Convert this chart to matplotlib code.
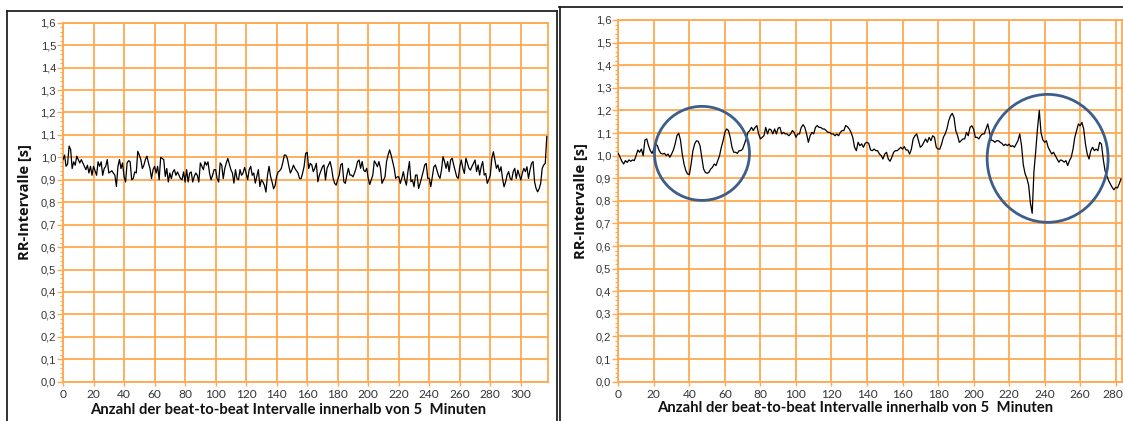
import numpy as np
import matplotlib
matplotlib.use("Agg")
import matplotlib.pyplot as plt
from matplotlib.patches import Ellipse
from matplotlib.lines import Line2D
from matplotlib.transforms import ScaledTranslation
from matplotlib.ticker import MultipleLocator, FixedLocator, FuncFormatter

# RR intervals [s], one value per beat - resting recording (left panel)
rr_rest = [
    0.99, 1.01, 0.96, 0.97, 1.05, 1.035, 0.95, 0.98, 0.965, 1.005, 0.99,
    0.975, 0.99, 0.975, 0.96, 0.945, 0.965, 0.93, 0.96, 0.92, 0.96, 0.94,
    0.92, 0.98, 0.96, 0.98, 0.92, 0.95, 0.96, 0.99, 0.93, 0.935, 0.94,
    0.93, 0.92, 0.87, 0.96, 0.99, 0.95, 0.975, 0.915, 0.89, 0.975, 0.985,
    0.98, 0.90, 0.905, 0.935, 0.93, 1.027, 1.01, 0.99, 0.95, 0.965, 0.99,
    1.005, 0.975, 0.95, 0.905, 0.945, 0.96, 0.93, 0.96, 0.90, 1.0, 0.995,
    0.99, 0.915, 0.95, 0.89, 0.93, 0.905, 0.935, 0.945, 0.92, 0.935, 0.92,
    0.905, 0.90, 0.935, 0.89, 0.945, 0.89, 0.93, 0.935, 0.89, 0.915, 0.93,
    0.92, 0.89, 0.975, 0.96, 0.945, 0.98, 0.965, 0.98, 0.93, 0.90, 0.92,
    0.945, 0.945, 0.905, 0.89, 0.975, 0.965, 0.905, 0.95, 0.975, 0.995, 0.97,
    0.945, 0.93, 0.885, 0.945, 0.905, 0.90, 0.945, 0.92, 0.93, 0.955, 0.93,
    0.90, 0.945, 0.96, 0.92, 0.93, 0.885, 0.915, 0.945, 0.87, 0.90, 0.89,
    0.875, 0.845, 0.92, 0.96, 0.915, 0.89, 0.86, 0.875, 0.915, 0.935, 0.94,
    0.95, 0.975, 1.01, 1.01, 0.995, 0.96, 0.93, 0.945, 0.965, 0.95, 0.94,
    0.93, 0.905, 0.905, 0.93, 0.96,
    1.018, 1.022, 0.95, 0.973, 0.966, 0.936, 0.951, 0.973, 0.891, 0.921, 0.94,
    0.958, 0.966, 0.899, 0.951, 0.966, 0.981, 0.951, 0.906, 0.884, 0.876, 0.90,
    0.921, 0.966, 0.973, 0.891, 0.884, 0.921, 0.951, 0.921, 0.921, 0.913, 0.93,
    0.951, 0.981, 0.988, 0.951, 0.981, 0.943, 0.936, 0.951, 0.906, 0.879, 0.90,
    0.921, 0.984, 0.973, 0.958, 0.981, 0.951, 0.884, 0.899, 0.913, 0.981, 1.01,
    1.033, 1.01, 0.981, 0.951, 0.906, 0.913, 0.913, 0.884, 0.906, 0.936, 0.90,
    0.876, 0.936, 0.981, 0.891, 0.899, 0.869, 0.921, 0.921, 0.861, 0.884, 0.91,
    0.936, 0.966, 0.973, 0.906, 0.906, 0.869, 0.913, 0.958, 0.966, 0.943, 0.92,
    0.906, 0.943, 1.003, 0.981, 0.951, 0.981, 0.936, 0.988, 0.996, 0.966, 0.94,
    0.913, 0.906, 0.958, 0.988, 0.951, 0.928, 0.996, 0.973, 0.951, 0.943, 0.96,
    0.973, 0.988, 0.936, 0.966, 0.921, 0.958, 0.981, 0.921, 0.928, 0.884, 0.90,
    0.921, 0.996, 1.025, 0.988, 0.951, 0.966, 0.936, 0.958, 0.906, 0.869, 0.89,
    0.921, 0.936, 0.906, 0.899, 0.936, 0.951, 0.906, 0.943, 0.921, 0.899, 0.93,
    0.951, 0.936, 0.958, 0.906, 0.943, 0.973, 0.981, 0.891, 0.861, 0.846, 0.86,
    0.884, 0.951, 0.966, 0.973, 1.093,
]

# RR intervals [s], one value per beat - recording with irregular episodes (right panel)
rr_episode = [
    1.010, 0.993, 0.975, 0.963, 0.978, 0.970, 0.981, 0.975, 0.981, 0.978,
    1.000, 1.025, 1.015, 1.029, 1.000, 1.069, 1.074, 1.044, 1.022, 1.010,
    1.029, 1.052, 1.044, 1.022, 1.010, 1.007, 1.010, 1.000, 1.007, 0.993,
    1.007, 1.025, 1.052, 1.088, 1.099, 1.069, 1.007, 0.963, 0.934, 0.919,
    0.916, 0.963, 1.022, 1.052, 1.066, 1.063, 1.044, 0.993, 0.941, 0.926,
    0.922, 0.926, 0.941, 0.948, 0.963, 0.956, 0.978, 1.000, 1.037, 1.066,
    1.103, 1.118, 1.111, 1.081, 1.037, 1.015, 1.015, 1.010, 1.022, 1.022,
    1.029, 1.052, 1.074, 1.103, 1.111, 1.125, 1.111, 1.125, 1.133, 1.096,
    1.074, 1.081, 1.088, 1.125, 1.096, 1.118, 1.114, 1.096, 1.118, 1.096,
    1.122, 1.125, 1.096, 1.103, 1.096, 1.096, 1.088, 1.096, 1.111, 1.103,
    1.081, 1.096, 1.096, 1.125, 1.137, 1.125, 1.096, 1.059, 1.088, 1.103,
    1.096, 1.125, 1.133, 1.125, 1.125, 1.118, 1.118, 1.111, 1.103, 1.103,
    1.096, 1.096, 1.088, 1.096, 1.088, 1.103, 1.111, 1.111, 1.133, 1.128,
    1.118, 1.103, 1.081, 1.037, 1.022, 1.059, 1.044, 1.052, 1.037, 1.055,
    1.059,
    1.054, 1.025, 1.022, 1.029, 1.022, 1.022, 1.007, 1.000, 0.985, 1.007,
    1.015, 0.985, 0.975, 0.993, 1.015, 1.022, 1.022, 1.029, 1.037, 1.029,
    1.040, 1.025, 1.025, 1.007, 1.029, 1.074, 1.088, 1.096, 1.066, 1.037,
    1.044, 1.059, 1.074, 1.059, 1.081, 1.066, 1.088, 1.081, 1.037, 1.029,
    1.029, 1.051, 1.081, 1.096, 1.118, 1.154, 1.176, 1.187, 1.169, 1.110,
    1.088, 1.059, 1.066, 1.074, 1.074, 1.103, 1.088, 1.125, 1.132, 1.118,
    1.081, 1.081, 1.074, 1.088, 1.096, 1.096, 1.118, 1.140, 1.103, 1.069,
    1.066, 1.059, 1.066, 1.066, 1.059, 1.054, 1.044, 1.051, 1.044, 1.051,
    1.040, 1.044, 1.037, 1.051, 1.066, 1.096,
    1.045, 0.960, 0.920, 0.900, 0.870, 0.790, 0.745, 0.930, 1.020, 1.120,
    1.200, 1.100, 1.070,
    1.059, 1.066, 1.037, 1.022, 1.007, 1.015, 1.000, 0.985, 0.971, 0.981,
    0.978, 0.971, 0.978, 0.956, 0.978, 0.993, 1.029, 1.081, 1.110, 1.140,
    1.132, 1.147, 1.118, 1.051, 1.007, 0.985, 1.022, 1.037, 1.022, 1.029,
    1.022, 1.059, 1.051, 0.985, 0.934, 0.912, 0.890, 0.875, 0.860, 0.849,
    0.860, 0.857, 0.875, 0.897,
]

y_ticks = [0.0, 0.1, 0.2, 0.3, 0.4, 0.5, 0.6, 0.7, 0.8, 0.9, 1.0,
           1.1, 1.2, 1.3, 1.4, 1.5, 1.6]
x_ticks_rest = [0, 20, 40, 60, 80, 100, 120, 140, 160, 180, 200,
                220, 240, 260, 280, 300]
x_ticks_episode = [0, 20, 40, 60, 80, 100, 120, 140, 160, 180, 200,
                   220, 240, 260, 280]
y_label = "RR-Intervalle [s]"
x_label = "Anzahl der beat-to-beat Intervalle innerhalb von 5  Minuten"

GRID = "#FFA84F"
RING = "#3B5E8C"
FIG_W, FIG_H = 1123, 421

fig = plt.figure(figsize=(FIG_W / 100, FIG_H / 100), dpi=100)
fig.patch.set_facecolor("white")


def px_box(left, top, right, bottom):
    return [left / FIG_W, 1 - bottom / FIG_H, (right - left) / FIG_W, (bottom - top) / FIG_H]


def comma(v, _pos):
    return f"{v:.1f}".replace(".", ",")


def draw_panel(ax, values, xmax, xticks):
    beats = np.arange(len(values))
    ax.set_xlim(0, xmax)
    ax.set_ylim(0, 1.6)
    ax.yaxis.set_major_locator(FixedLocator(y_ticks))
    ax.yaxis.set_minor_locator(MultipleLocator(0.02))
    ax.xaxis.set_major_locator(FixedLocator(xticks))
    ax.yaxis.set_major_formatter(FuncFormatter(comma))
    ax.grid(True, which="major", color=GRID, lw=1.3, zorder=0)
    for s in ax.spines.values():
        s.set_color(GRID)
        s.set_linewidth(1.3)
    ax.tick_params(axis="y", which="major", colors=GRID, length=4, width=1.0,
                   labelcolor="#333333", labelsize=8, pad=1)
    ax.tick_params(axis="y", which="minor", colors=GRID, length=2, width=0.8)
    ax.tick_params(axis="x", which="major", colors=GRID, length=3, width=1.0,
                   labelcolor="#333333", labelsize=8.6, pad=2.5)
    for lab in ax.get_yticklabels():
        lab.set_fontfamily("Liberation Sans")
    for lab in ax.get_xticklabels():
        lab.set_fontfamily("Lato")
    ax.plot(beats, values, color="black", lw=0.9, zorder=3)
    ax.set_ylabel(y_label, fontsize=10.5, fontweight="bold", family="Open Sans",
                  color="#111111", labelpad=6)


ax_l = fig.add_axes(px_box(63, 22.7, 547.7, 381.7))
draw_panel(ax_l, rr_rest, 317.6, x_ticks_rest)

ax_r = fig.add_axes(px_box(618.3, 20, 1121.7, 381.7))
draw_panel(ax_r, rr_episode, 283.4, x_ticks_episode)

# keep the last tick label of the right panel inside the figure
last = ax_r.get_xticklabels()[-1]
last.set_transform(last.get_transform() + ScaledTranslation(-3 / 100, 0, fig.dpi_scale_trans))

# rings marking the irregular episodes
for cx, cy, w, h in [(47.1, 1.01, 53.5, 0.416), (241.7, 0.988, 68.1, 0.566)]:
    ax_r.add_patch(Ellipse((cx, cy), w, h, fill=False, edgecolor=RING,
                           lw=2.0, zorder=4, clip_on=False))

# x axis titles, sized to a fixed pixel width
renderer = fig.canvas.get_renderer()
for cx, cy in [(288, 410.5), (855, 408)]:
    t = fig.text(cx / FIG_W, 1 - cy / FIG_H, x_label, ha="center", va="center",
                 fontsize=10.5, fontweight="bold", family="Lato", color="#111111")
    w = t.get_window_extent(renderer).width
    t.set_fontsize(10.5 * 397 / w)

# outer frames around both panels
def frame_line(xs, ys, color="#222222", lw=1.3):
    fig.add_artist(Line2D([x / FIG_W for x in xs], [1 - y / FIG_H for y in ys],
                          color=color, lw=lw))

frame_line([7, 557], [10.7, 10.7])
frame_line([7, 7], [10.7, 421])
frame_line([557, 557], [10.7, 421])
frame_line([559, 1123], [7.3, 7.3])
frame_line([559.5, 559.5], [7.3, 421])

fig.savefig("out.png", dpi=100, facecolor="white")
